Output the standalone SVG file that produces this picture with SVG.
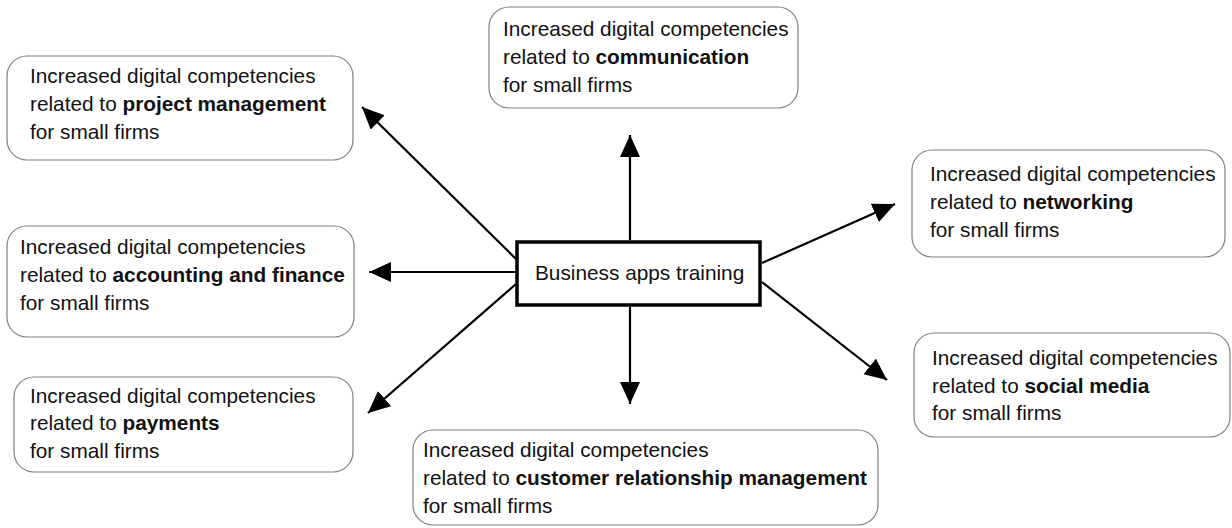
<svg xmlns="http://www.w3.org/2000/svg" width="1232" height="528" viewBox="0 0 1232 528">
<defs>
<style>
.box{fill:#fff;stroke:#808080;stroke-width:1.2}
.center{fill:#fff;stroke:#000;stroke-width:3.5}
text{font-family:"Liberation Sans",Arial,sans-serif;font-size:20.8px;fill:#111}
.b{font-weight:bold}
.conn{stroke:#000;stroke-width:2.2;fill:none;marker-end:url(#ah)}
</style>
<marker id="ah" markerUnits="userSpaceOnUse" markerWidth="24" markerHeight="22" refX="22" refY="10" orient="auto">
<path d="M0,0 L22,10 L0,20 z" fill="#000"/>
</marker>
</defs>
<rect width="1232" height="528" fill="#fff"/>
<g id="connectors">
<line class="conn" x1="630" y1="240" x2="630" y2="135"/>
<line class="conn" x1="630" y1="307" x2="630" y2="404"/>
<line class="conn" x1="516" y1="272" x2="369" y2="272"/>
<line class="conn" x1="516" y1="259" x2="362" y2="107"/>
<line class="conn" x1="516" y1="284" x2="368" y2="413"/>
<line class="conn" x1="762" y1="263" x2="895" y2="204"/>
<line class="conn" x1="762" y1="282" x2="887" y2="380"/>
</g>
<g id="center">
<rect class="center" x="517" y="242" width="243" height="63"/>
<text x="535" y="280">Business apps training</text>
</g>
<g id="communication">
<rect class="box" x="489" y="7" width="309" height="101" rx="20"/>
<text x="503" y="36">Increased digital competencies</text>
<text x="503" y="64">related to <tspan class="b">communication</tspan></text>
<text x="503" y="92">for small firms</text>
</g>
<g id="project-management">
<rect class="box" x="7" y="56" width="346" height="104" rx="20"/>
<text x="30" y="83">Increased digital competencies</text>
<text x="30" y="111">related to <tspan class="b">project management</tspan></text>
<text x="30" y="139">for small firms</text>
</g>
<g id="networking">
<rect class="box" x="912" y="150" width="313" height="107" rx="20"/>
<text x="930" y="181">Increased digital competencies</text>
<text x="930" y="209">related to <tspan class="b">networking</tspan></text>
<text x="930" y="237">for small firms</text>
</g>
<g id="accounting-finance">
<rect class="box" x="7" y="226" width="347" height="111" rx="20"/>
<text x="20" y="254">Increased digital competencies</text>
<text x="20" y="282">related to <tspan class="b">accounting and finance</tspan></text>
<text x="20" y="310">for small firms</text>
</g>
<g id="social-media">
<rect class="box" x="914" y="333" width="316" height="104" rx="20"/>
<text x="932" y="365">Increased digital competencies</text>
<text x="932" y="393">related to <tspan class="b">social media</tspan></text>
<text x="932" y="420">for small firms</text>
</g>
<g id="payments">
<rect class="box" x="14" y="377" width="339" height="95" rx="20"/>
<text x="30" y="403">Increased digital competencies</text>
<text x="30" y="430">related to <tspan class="b">payments</tspan></text>
<text x="30" y="458">for small firms</text>
</g>
<g id="crm">
<rect class="box" x="413" y="430" width="465" height="95" rx="20"/>
<text x="423" y="457">Increased digital competencies</text>
<text x="423" y="485">related to <tspan class="b">customer relationship management</tspan></text>
<text x="423" y="513">for small firms</text>
</g>
</svg>
